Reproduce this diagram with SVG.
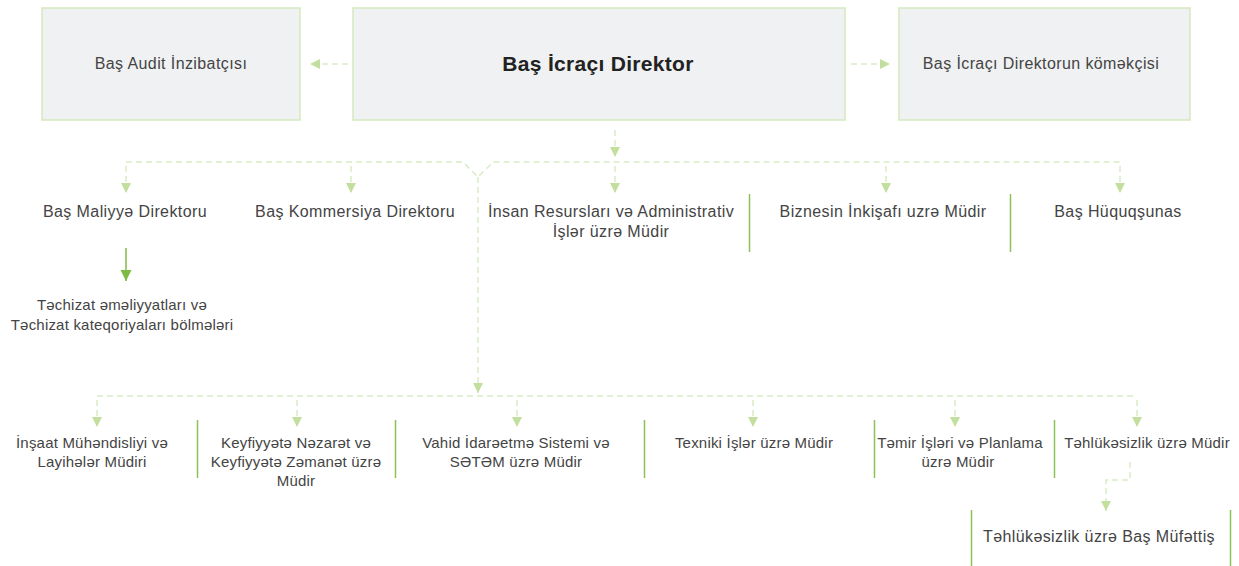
<svg xmlns="http://www.w3.org/2000/svg" width="1239" height="566" viewBox="0 0 1239 566">
<style>
.box{fill:#f0f1f3;stroke:#d5e9bf;stroke-width:1.5}
.t{font-family:"Liberation Sans",Arial,sans-serif;fill:#444;text-anchor:middle}
.s14{font-size:15px;letter-spacing:0.2px}
.s15{font-size:16px;letter-spacing:0.4px}
.b{font-size:21px;font-weight:bold;fill:#222;letter-spacing:0.3px}
.dash{fill:none;stroke:#d9ebc6;stroke-width:1.5;stroke-dasharray:6 4}
.sep{stroke:#8cc15a;stroke-width:1.5}
.solid{fill:none;stroke:#7dbb42;stroke-width:1.5}
</style>
<defs>
<marker id="ah" viewBox="0 0 10 10" refX="10" refY="5" markerWidth="10" markerHeight="12" markerUnits="userSpaceOnUse" orient="auto">
<path d="M0,0 L10,5 L0,10 z" fill="#c3df9d"/>
</marker>
<marker id="ahs" viewBox="0 0 10 10" refX="10" refY="5" markerWidth="11" markerHeight="12" markerUnits="userSpaceOnUse" orient="auto">
<path d="M0,0 L10,5 L0,10 z" fill="#7dbb42"/>
</marker>
</defs>

<g id="connectors">
<path class="dash" d="M348,64 H310" marker-end="url(#ah)"/>
<path class="dash" d="M851,64 H890" marker-end="url(#ah)"/>
<path class="dash" d="M615,130 V157" marker-end="url(#ah)"/>
<path class="dash" d="M126,162 H463 L478,177 L493,162 H1120"/>
<path class="dash" d="M615,166 V193" marker-end="url(#ah)"/>
<path class="dash" d="M126,166 V193" marker-end="url(#ah)"/>
<path class="dash" d="M351,166 V193" marker-end="url(#ah)"/>
<path class="dash" d="M886,166 V193" marker-end="url(#ah)"/>
<path class="dash" d="M1120,166 V193" marker-end="url(#ah)"/>
<path class="solid" d="M126,248 V281" marker-end="url(#ahs)"/>
<path class="dash" d="M478,177 V393" marker-end="url(#ah)"/>
<path class="dash" d="M97,396 H1137"/>
<path class="dash" d="M97,400 V427" marker-end="url(#ah)"/>
<path class="dash" d="M297,400 V427" marker-end="url(#ah)"/>
<path class="dash" d="M517,400 V427" marker-end="url(#ah)"/>
<path class="dash" d="M753,400 V427" marker-end="url(#ah)"/>
<path class="dash" d="M955,400 V427" marker-end="url(#ah)"/>
<path class="dash" d="M1137,400 V427" marker-end="url(#ah)"/>
<path class="dash" d="M1130,462 V480 H1106 V511" marker-end="url(#ah)"/>
</g>

<g id="audit"><rect class="box" x="42" y="8" width="258" height="112"/><text class="t s15" x="171" y="69">Baş Audit İnzibatçısı</text></g>
<g id="ceo"><rect class="box" x="353" y="8" width="492" height="112"/><text class="t b" x="598" y="71">Baş İcraçı Direktor</text></g>
<g id="assistant"><rect class="box" x="899" y="8" width="291" height="112"/><text class="t s15" x="1041" y="69">Baş İcraçı Direktorun köməkçisi</text></g>

<g id="cfo"><text class="t s15" x="125" y="217">Baş Maliyyə Direktoru</text></g>
<g id="procurement"><text class="t s14" x="122" y="310">Təchizat əməliyyatları və</text><text class="t s14" x="122" y="330">Təchizat kateqoriyaları bölmələri</text></g>
<g id="cco"><text class="t s15" x="355" y="217">Baş Kommersiya Direktoru</text></g>
<g id="hr"><text class="t s15" x="611" y="217">İnsan Resursları və Administrativ</text><text class="t s15" x="611" y="237">İşlər üzrə Müdir</text></g>
<line class="sep" x1="749.5" y1="194" x2="749.5" y2="252"/>
<g id="bizdev"><text class="t s15" x="883" y="217">Biznesin İnkişafı uzrə Müdir</text></g>
<line class="sep" x1="1010.5" y1="194" x2="1010.5" y2="252"/>
<g id="legal"><text class="t s15" x="1118" y="217">Baş Hüquqşunas</text></g>

<g id="construction"><text class="t s14" x="92" y="448">İnşaat Mühəndisliyi və</text><text class="t s14" x="92" y="467">Layihələr Müdiri</text></g>
<line class="sep" x1="197.5" y1="420" x2="197.5" y2="478"/>
<g id="quality"><text class="t s14" x="296" y="448">Keyfiyyətə Nəzarət və</text><text class="t s14" x="296" y="467">Keyfiyyətə Zəmanət üzrə</text><text class="t s14" x="296" y="486">Müdir</text></g>
<line class="sep" x1="395.5" y1="420" x2="395.5" y2="478"/>
<g id="ims"><text class="t s14" x="516" y="448">Vahid İdarəetmə Sistemi və</text><text class="t s14" x="516" y="467">SƏTƏM üzrə Müdir</text></g>
<line class="sep" x1="644.5" y1="420" x2="644.5" y2="478"/>
<g id="technical"><text class="t s14" x="754" y="448">Texniki İşlər üzrə Müdir</text></g>
<line class="sep" x1="874.5" y1="420" x2="874.5" y2="478"/>
<g id="maintenance"><text class="t s14" x="960" y="448">Təmir İşləri və Planlama</text><text class="t s14" x="958" y="467">üzrə Müdir</text></g>
<line class="sep" x1="1054.5" y1="420" x2="1054.5" y2="478"/>
<g id="safety"><text class="t s14" x="1147" y="448">Təhlükəsizlik üzrə Müdir</text></g>
<g id="inspector"><line class="sep" x1="971.5" y1="510" x2="971.5" y2="566"/><text class="t s15" x="1099" y="542">Təhlükəsizlik üzrə Baş Müfəttiş</text><line class="sep" x1="1230.5" y1="510" x2="1230.5" y2="566"/></g>
</svg>
